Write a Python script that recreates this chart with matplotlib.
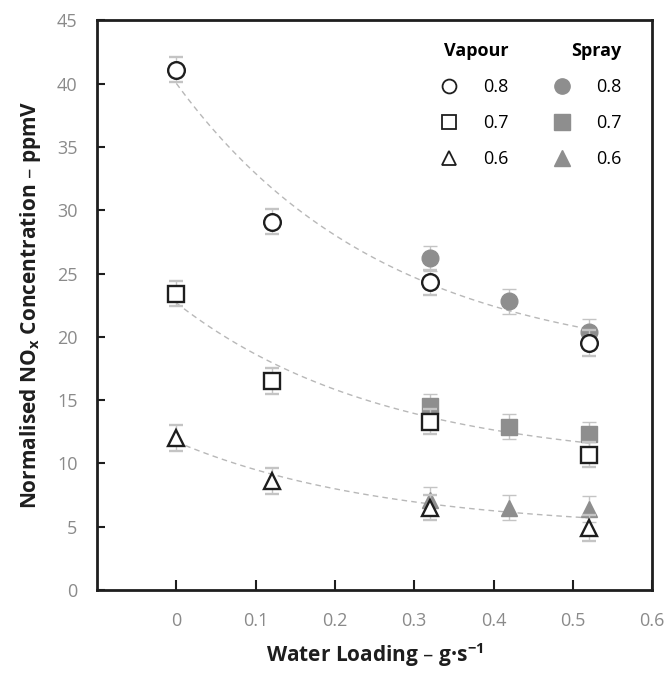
import numpy as np
import matplotlib
matplotlib.use('Agg')
import matplotlib.pyplot as plt
from matplotlib.lines import Line2D

plt.rcParams['font.family'] = ['Open Sans', 'DejaVu Sans']
plt.rcParams['mathtext.default'] = 'regular'

# Vapour data (equivalence ratio 0.8, 0.7, 0.6)
vap_x = [0, 0.12, 0.32, 0.52]
vap_08 = [41.1, 29.1, 24.3, 19.5]
vap_07 = [23.4, 16.5, 13.3, 10.7]
vap_06 = [12.0, 8.6, 6.5, 4.9]

# Spray data
spr_x = [0.32, 0.42, 0.52]
spr_08 = [26.2, 22.8, 20.4]
spr_07 = [14.5, 12.9, 12.3]
spr_06 = [7.1, 6.5, 6.4]

err = 1.0
labels = ['0.8', '0.7', '0.6']
markers = ['o', 's', '^']

grey = '#8e8e8e'
dark = '#1e1e1e'
ecol = '#c4c4c4'

# decay rate of the trend curves y = a + b*exp(-k x)
k = 3.8

fig = plt.figure(figsize=(6.69, 6.77), dpi=100)
ax = fig.add_axes([0.145, 0.1285, 0.83, 0.8415])

vap = [vap_08, vap_07, vap_06]
spr = [spr_08, spr_07, spr_06]

# trend lines through vapour + spray points (a, b by least squares)
xs = np.linspace(0, 0.52, 100)
for v, s in zip(vap, spr):
    xx = np.array(vap_x + spr_x, dtype=float)
    yy = np.array(v + s, dtype=float)
    A = np.column_stack([np.ones_like(xx), np.exp(-k * xx)])
    (a, b), *_ = np.linalg.lstsq(A, yy, rcond=None)
    ax.plot(xs, a + b * np.exp(-k * xs), color='#b8b8b8', lw=1,
            ls=(0, (4, 3)), zorder=1)

for s, m in zip(spr, markers):
    ax.errorbar(spr_x, s, yerr=err, fmt=m, color=grey, ms=12 if m != 's' else 11,
                ecolor=ecol, elinewidth=1, capsize=5, capthick=1, zorder=2)
for v, m in zip(vap, markers):
    ax.errorbar(vap_x, v, yerr=err, fmt=m, mfc='white', mec=dark, mew=1.7,
                ms=12 if m != 's' else 11, ecolor=ecol, elinewidth=1,
                capsize=5, capthick=1, zorder=3)

ax.set_xlim(-0.1, 0.6)
ax.set_ylim(0, 45)
ax.set_xticks([0, 0.1, 0.2, 0.3, 0.4, 0.5, 0.6])
ax.set_xticklabels(['0', '0.1', '0.2', '0.3', '0.4', '0.5', '0.6'])
ax.set_yticks(range(0, 46, 5))
ax.tick_params(axis='x', direction='in', length=7, width=1.5, pad=16,
               labelsize=13, labelcolor='#8a8a8a', color=dark)
ax.tick_params(axis='y', direction='in', length=6, width=1.5, pad=14,
               labelsize=13, labelcolor='#8a8a8a', color=dark)
for sp in ax.spines.values():
    sp.set_linewidth(2)
    sp.set_color(dark)

ax.set_xlabel('Water Loading – g·s$^{-1}$', fontsize=15, fontweight='bold',
              color=dark, labelpad=8)
ax.set_ylabel('Normalised NO$_x$ Concentration – ppmV', fontsize=15,
              fontweight='bold', color=dark, labelpad=10)

# legends
vh = [Line2D([], [], ls='', marker=m, mfc='white', mec=dark, mew=1.3, ms=10)
      for m in markers]
sh = [Line2D([], [], ls='', marker=m, mfc=grey, mec=grey, ms=11) for m in markers]
common = dict(loc='upper left', frameon=False, fontsize=13, alignment='right',
              title_fontproperties={'weight': 'bold', 'size': 13},
              handletextpad=1.3, labelspacing=1.0, handlelength=1.2)
leg1 = ax.legend(vh, labels, title='Vapour', bbox_to_anchor=(0.585, 0.99), **common)
ax.add_artist(leg1)
ax.legend(sh, labels, title='Spray', bbox_to_anchor=(0.788, 0.99), **common)

fig.savefig('out.png', dpi=100)
